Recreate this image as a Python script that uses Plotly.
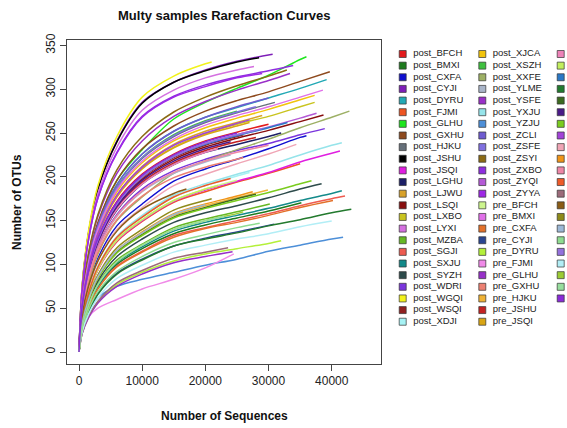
import plotly.graph_objects as go

# ---------------- data ----------------
SEQ_GRID = [0, 500, 1500, 3000, 6000, 10000, 15000, 20000, 25000, 30000, 35000, 40000]

SAMPLES = [
    "post_BFCH", "post_BMXI", "post_CXFA", "post_CYJI", "post_DYRU", "post_FJMI",
    "post_GLHU", "post_GXHU", "post_HJKU", "post_JSHU", "post_JSQI", "post_LGHU",
    "post_LJWU", "post_LSQI", "post_LXBO", "post_LYXI", "post_MZBA", "post_SGJI",
    "post_SXJU", "post_SYZH", "post_WDRI", "post_WGQI", "post_WSQI", "post_XDJI",
    "post_XJCA", "post_XSZH", "post_XXFE", "post_YLME", "post_YSFE", "post_YXJU",
    "post_YZJU", "post_ZCLI", "post_ZSFE", "post_ZSYI", "post_ZXBO", "post_ZYQI",
    "post_ZYYA", "pre_BFCH", "pre_BMXI", "pre_CXFA", "pre_CYJI", "pre_DYRU",
    "pre_FJMI", "pre_GLHU", "pre_GXHU", "pre_HJKU", "pre_JSHU", "pre_JSQI",
    "pre_LGHU", "pre_LJWU", "pre_LSQI", "pre_LXBO", "pre_LYXI", "pre_MZBA",
    "pre_SGJI", "pre_SXJU", "pre_SYZH", "pre_WDRI", "pre_WGQI", "pre_WSQI",
    "pre_XDJI", "pre_XJCA", "pre_XSZH", "pre_XXFE", "pre_YLME", "pre_YSFE",
    "pre_YXJU", "pre_YZJU", "pre_ZCLI", "pre_ZSFE",
]

COLORS = [
    "#E31A1C", "#1E7B1E", "#1010D0", "#7E1EB8", "#22A9B5", "#EE5522",
    "#1EE61E", "#8E4A1E", "#66707A", "#000000", "#E01FE0", "#1C1F66",
    "#D9A22A", "#880E0E", "#C9C41F", "#D470E0", "#66B824", "#EE5B50",
    "#138A8A", "#2D4B4B", "#7A35DC", "#F2F21C", "#902020", "#A6F2F4",
    "#F2C40C", "#40C040", "#9DB065", "#A9B5C9", "#9A30C8", "#96E4EA",
    "#4D8FD8", "#6E5BD0", "#8070E0", "#8B6A14", "#8E2EE0", "#B45AD6",
    "#9E28E6", "#CDF58E", "#E070E8", "#E3712A", "#2A4590", "#B4F03A",
    "#F08AE8", "#9730C8", "#EC8072", "#EFB235", "#C42222", "#D9A514",
    "#EE82B8", "#C2EE5E", "#2A78C6", "#237A2E", "#3D6A1F", "#4A1A88",
    "#7ACC1E", "#A243D8", "#F0A5B5", "#F09418", "#EE86A6", "#EE5A28",
    "#9C6B7A", "#8A5C16", "#8E8A1A", "#9CB8D6", "#8EDC90", "#9470DC",
    "#B2EEF6", "#9CCB34", "#98DE9E", "#8A2BD8",
]

DEPTHS = [
    30000, 35200, 36000, 30650, 39200, 35000,
    36000, 39700, 31000, 28500, 41300, 32000,
    29000, 38700, 37300, 27700, 30200, 42100,
    41600, 38400, 38900, 21000, 26000, 27000,
    37300, 25000, 42800, 24000, 33400, 41600,
    41800, 30000, 28000, 32900, 33900, 37600,
    29000, 25000, 38600, 40200, 30900, 32000,
    24500, 24300, 26000, 29900, 28000, 27000,
    22000, 22000, 33000, 43100, 28000, 24000,
    36800, 27000, 34400, 27500, 30000, 24000,
    23600, 17000, 21000, 20000, 28600, 29000,
    40000, 26000, 23000, 25000,
]

# OTUs read at SEQ_GRID points below each sample's depth, last value at the depth
OTUS = [
    [0, 52, 94, 130, 172, 203, 226, 241, 251, 260],
    [0, 27, 52, 74, 100, 118, 135, 145, 153, 161, 170.5],
    [0, 39, 74, 107, 144, 169, 195, 209, 220, 232, 245, 247],
    [0, 75, 136, 186, 241, 285, 308, 322, 332, 340],
    [0, 58, 104, 145, 191, 226, 252, 268, 279, 290, 301, 311],
    [0, 35, 65, 94, 126, 149, 171, 183, 194, 204, 215],
    [0, 54, 101, 146, 196, 231, 266, 285, 301, 316, 334, 337],
    [0, 59, 107, 148, 196, 232, 258, 275, 287, 297, 309, 320],
    [0, 57, 102, 141, 187, 221, 246, 262, 273, 283, 285],
    [0, 74, 135, 186, 240, 284, 308, 321, 331, 336],
    [0, 35, 66, 94, 127, 150, 172, 185, 195, 205, 217, 227, 229.5],
    [0, 49, 89, 123, 162, 192, 214, 228, 237, 246, 250],
    [0, 54, 98, 136, 179, 212, 237, 252, 262, 270],
    [0, 51, 91, 126, 167, 197, 220, 234, 244, 253, 263, 270.5],
    [0, 54, 97, 135, 178, 210, 234, 249, 260, 269, 280, 285],
    [0, 72, 132, 181, 234, 276, 299, 313, 322, 326],
    [0, 29, 54, 78, 105, 123, 142, 152, 160, 169],
    [0, 27, 51, 73, 98, 115, 133, 142, 150, 158, 167, 175, 178],
    [0, 28, 53, 75, 102, 120, 138, 148, 156, 164, 173, 181, 184],
    [0, 30, 56, 81, 109, 129, 148, 159, 167, 176, 186, 192],
    [0, 48, 86, 119, 157, 186, 207, 220, 230, 238, 248, 255],
    [0, 76, 138, 190, 246, 291, 315, 329, 331],
    [0, 51, 92, 128, 168, 199, 222, 236, 246, 248],
    [0, 36, 68, 97, 131, 154, 177, 190, 201, 205],
    [0, 55, 100, 139, 183, 216, 241, 256, 267, 277, 288, 293],
    [0, 57, 103, 143, 188, 222, 248, 264, 275],
    [0, 41, 78, 112, 150, 177, 204, 218, 231, 243, 256, 268, 275],
    [0, 47, 85, 118, 155, 183, 204, 217, 225],
    [0, 62, 111, 155, 204, 241, 269, 286, 299, 310, 318],
    [0, 36, 68, 98, 132, 156, 179, 192, 203, 213, 225, 236, 239],
    [0, 25, 45, 62, 75, 83, 91, 99, 106, 115, 122, 129, 131],
    [0, 58, 104, 145, 191, 226, 252, 268, 280, 290],
    [0, 57, 102, 142, 187, 222, 247, 263, 274, 280],
    [0, 63, 113, 157, 208, 246, 274, 291, 304, 315, 322],
    [0, 71, 128, 176, 228, 269, 292, 305, 314, 321, 327],
    [0, 51, 92, 128, 169, 200, 223, 238, 248, 257, 267, 272.5],
    [0, 70, 128, 176, 227, 268, 291, 303, 313, 318],
    [0, 35, 66, 95, 128, 151, 173, 186, 196],
    [0, 56, 101, 140, 185, 218, 243, 259, 270, 280, 291, 299],
    [0, 27, 50, 72, 97, 114, 131, 141, 148, 156, 165, 173],
    [0, 25, 46, 67, 90, 106, 121, 130, 137, 146],
    [0, 21, 40, 57, 77, 91, 104, 112, 118, 124, 127],
    [0, 22, 40, 50, 60, 72, 83, 96, 112],
    [0, 21, 39, 56, 75, 89, 102, 109, 114.5],
    [0, 46, 82, 114, 151, 178, 199, 211, 220, 222],
    [0, 31, 59, 85, 115, 135, 156, 167, 176, 185],
    [0, 50, 89, 124, 164, 194, 216, 230, 240, 245],
    [0, 54, 96, 134, 177, 209, 233, 248, 258, 262],
    [0, 49, 89, 123, 163, 192, 214, 228, 232],
    [0, 35, 66, 95, 128, 151, 173, 186, 190],
    [0, 51, 92, 128, 169, 200, 223, 237, 247, 256, 262],
    [0, 24, 46, 66, 89, 105, 121, 129, 136, 144, 151, 159, 163],
    [0, 31, 59, 85, 114, 134, 154, 165, 175, 180],
    [0, 50, 90, 125, 166, 196, 218, 232, 240],
    [0, 31, 58, 84, 113, 133, 153, 164, 173, 182, 192, 195.5],
    [0, 54, 97, 135, 179, 211, 236, 250, 261, 265],
    [0, 38, 72, 104, 140, 165, 190, 203, 215, 226, 237],
    [0, 32, 60, 86, 116, 137, 158, 169, 178, 183],
    [0, 47, 85, 118, 156, 184, 205, 218, 228, 236],
    [0, 36, 67, 97, 131, 154, 177, 190, 198],
    [0, 22, 41, 58, 79, 93, 107, 114, 119],
    [0, 42, 75, 104, 138, 163, 181, 186],
    [0, 33, 62, 88, 119, 140, 162, 173, 175],
    [0, 32, 60, 86, 116, 136, 157, 168],
    [0, 25, 48, 69, 92, 109, 125, 134, 142, 147],
    [0, 51, 92, 128, 169, 200, 223, 238, 248, 255],
    [0, 23, 43, 62, 84, 99, 114, 122, 129, 135, 143, 149.5],
    [0, 28, 53, 77, 103, 122, 140, 150, 158, 160],
    [0, 28, 53, 77, 103, 122, 140, 150, 155],
    [0, 52, 93, 130, 171, 202, 225, 240, 250],
]

X_TICKS = [0, 10000, 20000, 30000, 40000]
Y_TICKS = [0, 50, 100, 150, 200, 250, 300, 350]

TITLE = "Multy samples Rarefaction Curves"
X_TITLE = "Number of Sequences"
Y_TITLE = "Number of OTUs"

# ---------------- figure ----------------
W, H = 567, 428
ML, MR, MT, MB = 67, 0, 40, 64
PLOT_W = W - ML - MR
FRAME_RIGHT = 381
XDOM = (FRAME_RIGHT - ML) / PLOT_W

FONT = "Liberation Sans, Arial, Helvetica, sans-serif"

fig = go.Figure()

for name, color, depth, otus in zip(SAMPLES, COLORS, DEPTHS, OTUS):
    xs = SEQ_GRID[: len(otus) - 1] + [depth]
    fig.add_trace(go.Scatter(
        x=xs, y=otus, mode="lines", name=name,
        line=dict(color=color, width=1.5, shape="spline", smoothing=0.9),
        showlegend=False, xaxis="x", yaxis="y",
    ))

# custom three-column legend (drawn in pixel space on a helper axis);
# the third column's labels fall outside the picture, as in the original
ROWS = 24
ROW0 = 54.0
ROW_STEP = 11.64
SW_X = [402.7, 482.3, 560.7]
TXT_DX = 10.5
for c in range(3):
    idx = list(range(c * ROWS, min((c + 1) * ROWS, len(SAMPLES))))
    ys = [ROW0 + (i - c * ROWS) * ROW_STEP for i in idx]
    fig.add_trace(go.Scatter(
        x=[SW_X[c]] * len(idx), y=ys, mode="markers",
        marker=dict(symbol="square", size=7, color=[COLORS[i] for i in idx],
                    line=dict(color="#333333", width=0.7)),
        showlegend=False, xaxis="x2", yaxis="y2", hoverinfo="skip",
        cliponaxis=False,
    ))
    if c < 2:
        fig.add_trace(go.Scatter(
            x=[SW_X[c] + TXT_DX] * len(idx), y=ys, mode="text",
            text=[SAMPLES[i] for i in idx], textposition="middle right",
            textfont=dict(family=FONT, size=9.5, color="#222222"),
            showlegend=False, xaxis="x2", yaxis="y2", hoverinfo="skip",
            cliponaxis=False,
        ))

axis_common = dict(
    showgrid=False, zeroline=False, showline=True, mirror=True,
    linecolor="#444444", linewidth=1, ticks="outside", ticklen=6,
    tickcolor="#444444", tickfont=dict(family=FONT, size=12, color="#222222"),
)

fig.update_layout(
    width=W, height=H,
    margin=dict(l=ML, r=MR, t=MT, b=MB, autoexpand=False),
    paper_bgcolor="white", plot_bgcolor="white",
    showlegend=False,
    xaxis=dict(domain=[0, XDOM], range=[-1900, 47800], tickvals=X_TICKS,
               ticktext=[str(v) for v in X_TICKS], **axis_common),
    yaxis=dict(range=[-13.7, 356.2], tickvals=Y_TICKS, tickangle=-90,
               ticktext=[str(v) for v in Y_TICKS], **axis_common),
    xaxis2=dict(domain=[XDOM, 1], range=[FRAME_RIGHT, W], visible=False,
                anchor="y2"),
    yaxis2=dict(domain=[0, 1], range=[H - MB, MT], visible=False,
                anchor="x2"),
    annotations=[
        dict(text=f"<b>{TITLE}</b>", xref="paper", yref="paper",
             x=XDOM / 2, y=1, yshift=25, showarrow=False,
             font=dict(family=FONT, size=13, color="#111111"),
             xanchor="center", yanchor="middle"),
        dict(text=f"<b>{X_TITLE}</b>", xref="paper", yref="paper",
             x=XDOM / 2, y=0, yshift=-52, showarrow=False,
             font=dict(family=FONT, size=12, color="#111111"),
             xanchor="center", yanchor="middle"),
        dict(text=f"<b>{Y_TITLE}</b>", xref="paper", yref="paper",
             x=0, y=0.5, xshift=-50, showarrow=False, textangle=-90,
             font=dict(family=FONT, size=12, color="#111111"),
             xanchor="center", yanchor="middle"),
    ],
)

fig.write_html(
    "out.html",
    config={"displayModeBar": False},
    post_script="document.body.style.margin='0px';document.body.style.overflow='hidden';",
)
